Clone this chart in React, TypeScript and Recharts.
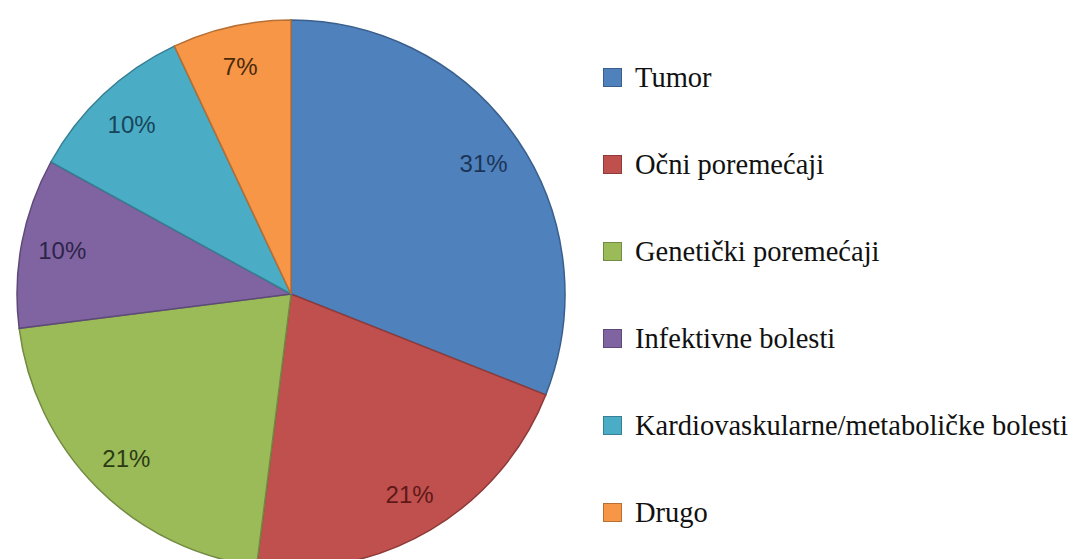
import React from "react";
import { PieChart, Pie, Cell, Legend } from "recharts";

const categories = [
  "Tumor",
  "Očni poremećaji",
  "Genetički poremećaji",
  "Infektivne bolesti",
  "Kardiovaskularne/metaboličke bolesti",
  "Drugo",
];
const values = [31, 21, 21, 10, 10, 7];
const fills = ["#4F81BD", "#C0504D", "#9BBB59", "#8064A2", "#4BACC6", "#F79646"];
const strokes = ["#3a5f8c", "#8e3b39", "#728a42", "#5e4a78", "#377f92", "#b66f34"];
const labelColors = ["#1c3557", "#5e1818", "#2b3a12", "#2e2448", "#17465a", "#4a2a0c"];

const data = categories.map((name, i) => ({ name, value: values[i] }));

const RADIAN = Math.PI / 180;

const renderLabel = (props: any) => {
  const { cx, cy, midAngle, outerRadius, index, percent } = props;
  const r = outerRadius * 0.85;
  const x = cx + r * Math.cos(-midAngle * RADIAN);
  const y = cy + r * Math.sin(-midAngle * RADIAN);
  return (
    <text
      x={x}
      y={y}
      textAnchor="middle"
      dominantBaseline="central"
      fill={labelColors[index]}
      fontFamily="'Liberation Sans', Arial, sans-serif"
      fontSize={24}
    >
      {`${Math.round(percent * 100)}%`}
    </text>
  );
};

const serifFont = "'Liberation Serif'";

const renderLegend = () => (
  <div
    style={{
      display: "flex",
      flexDirection: "column",
      fontFamily: serifFont,
      fontSize: 28.5,
      color: "#111",
    }}
  >
    {categories.map((c, i) => (
      <div
        key={c}
        style={{ height: 87, display: "flex", alignItems: "center", whiteSpace: "nowrap" }}
      >
        <span
          style={{
            display: "inline-block",
            width: 17,
            height: 17,
            background: fills[i],
            border: `1px solid ${strokes[i]}`,
            marginRight: 13,
            flexShrink: 0,
          }}
        />
        <span style={{ fontFamily: serifFont }}>{c}</span>
      </div>
    ))}
  </div>
);

export default function App() {
  return (
    <div style={{ position: "absolute", left: 0, top: 0, width: 1081, height: 559, background: "#fff" }}>
      <PieChart width={1081} height={559}>
        <Pie
          data={data}
          dataKey="value"
          nameKey="name"
          cx={286}
          cy={289}
          outerRadius={274}
          startAngle={90}
          endAngle={-270}
          label={renderLabel}
          labelLine={false}
          isAnimationActive={false}
        >
          {data.map((d, i) => (
            <Cell key={d.name} fill={fills[i]} stroke={strokes[i]} strokeWidth={1.5} />
          ))}
        </Pie>
        <Legend
          content={renderLegend}
          wrapperStyle={{ position: "absolute", left: 603, top: 34, width: 478, fontFamily: serifFont }}
        />
      </PieChart>
    </div>
  );
}
